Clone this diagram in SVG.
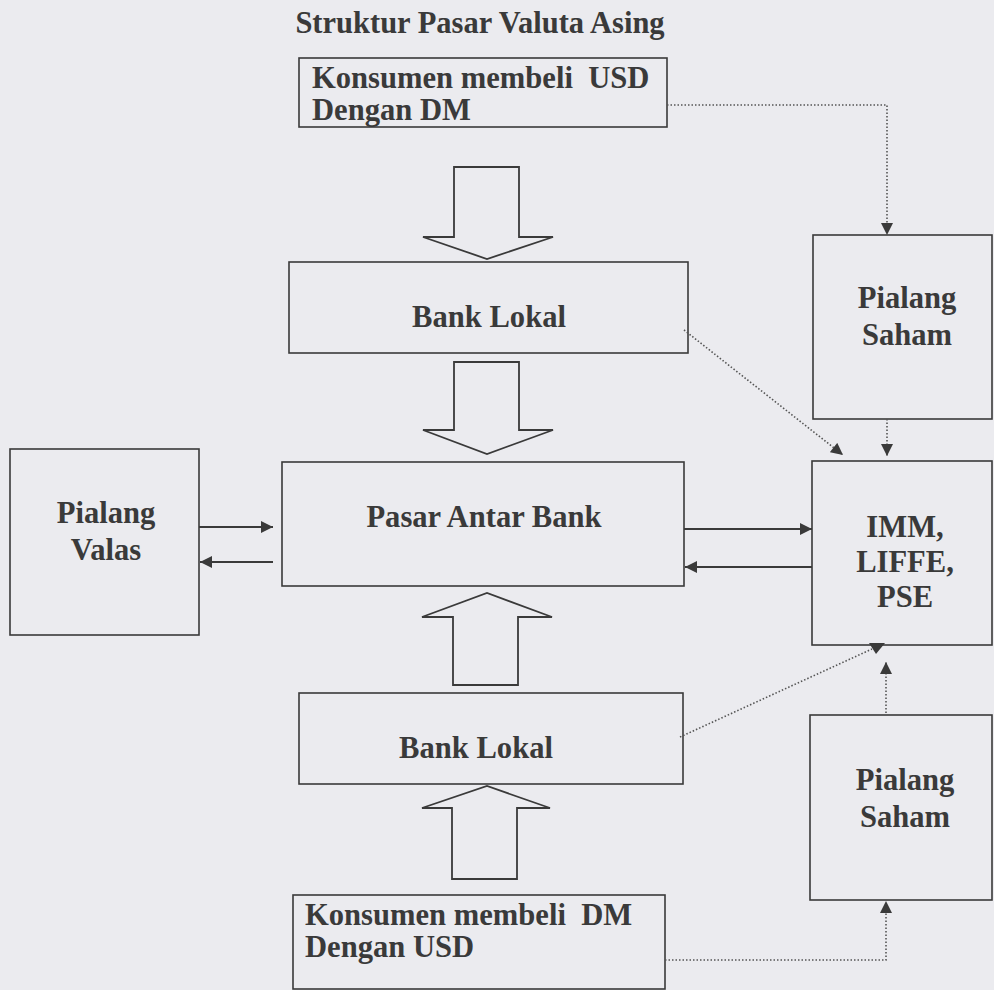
<svg xmlns="http://www.w3.org/2000/svg" width="994" height="990" viewBox="0 0 994 990">
  <style>
    .box { fill: none; stroke: #3a3a3a; stroke-width: 1.6; }
    .blk { fill: none; stroke: #3a3a3a; stroke-width: 1.8; stroke-linejoin: miter; }
    .solid { fill: none; stroke: #3a3a3a; stroke-width: 1.8; }
    .dot { fill: none; stroke: #555; stroke-width: 1.6; stroke-dasharray: 1.5 2; }
    .head { fill: #3a3a3a; stroke: none; }
    text.t { font-family: 'Liberation Serif', serif; font-weight: bold; font-size: 30.6px; fill: #3a3a3a; }
    text.mid { text-anchor: middle; }
  </style>
  <defs>
    <marker id="arr" viewBox="0 0 10 10" refX="10" refY="5" markerUnits="userSpaceOnUse" markerWidth="13" markerHeight="12" orient="auto">
      <path d="M0,0 L10,5 L0,10 z" fill="#3a3a3a" stroke="none"/>
    </marker>
  </defs>
  <rect x="0" y="0" width="994" height="990" fill="#ebebef"/>

  <text id="title" class="t mid" x="480" y="33" style="font-family:'Liberation Serif',serif;font-size:30.5px">Struktur Pasar Valuta Asing</text>

  <g id="konsumen-usd">
    <rect class="box" x="299" y="58" width="368" height="69"/>
    <text class="t" x="312" y="88" style="font-family:'Liberation Serif',serif" xml:space="preserve">Konsumen membeli  USD</text>
    <text class="t" x="312" y="120" style="font-family:'Liberation Serif',serif">Dengan DM</text>
  </g>

  <g id="bank-lokal-1">
    <rect class="box" x="289" y="262" width="399" height="91"/>
    <text class="t mid" x="489" y="327" style="font-family:'Liberation Serif',serif">Bank Lokal</text>
  </g>

  <g id="pasar-antar-bank">
    <rect class="box" x="282" y="462" width="402" height="124"/>
    <text class="t mid" x="484" y="527" style="font-family:'Liberation Serif',serif">Pasar Antar Bank</text>
  </g>

  <g id="bank-lokal-2">
    <rect class="box" x="299" y="693" width="384" height="91"/>
    <text class="t mid" x="476" y="758" style="font-family:'Liberation Serif',serif">Bank Lokal</text>
  </g>

  <g id="konsumen-dm">
    <rect class="box" x="293" y="895" width="372" height="94"/>
    <text class="t" x="305" y="925" style="font-family:'Liberation Serif',serif" xml:space="preserve">Konsumen membeli  DM</text>
    <text class="t" x="305" y="957" style="font-family:'Liberation Serif',serif">Dengan USD</text>
  </g>

  <g id="pialang-valas">
    <rect class="box" x="10" y="449" width="189" height="186"/>
    <text class="t mid" x="106" y="523" style="font-family:'Liberation Serif',serif">Pialang</text>
    <text class="t mid" x="106" y="560" style="font-family:'Liberation Serif',serif">Valas</text>
  </g>

  <g id="pialang-saham-1">
    <rect class="box" x="813" y="235" width="179" height="184"/>
    <text class="t mid" x="907" y="308" style="font-family:'Liberation Serif',serif">Pialang</text>
    <text class="t mid" x="907" y="345" style="font-family:'Liberation Serif',serif">Saham</text>
  </g>

  <g id="imm-liffe-pse">
    <rect class="box" x="812" y="461" width="180" height="184"/>
    <text class="t mid" x="905" y="537" style="font-family:'Liberation Serif',serif">IMM,</text>
    <text class="t mid" x="905" y="572" style="font-family:'Liberation Serif',serif">LIFFE,</text>
    <text class="t mid" x="905" y="607" style="font-family:'Liberation Serif',serif">PSE</text>
  </g>

  <g id="pialang-saham-2">
    <rect class="box" x="810" y="715" width="182" height="185"/>
    <text class="t mid" x="905" y="790" style="font-family:'Liberation Serif',serif">Pialang</text>
    <text class="t mid" x="905" y="827" style="font-family:'Liberation Serif',serif">Saham</text>
  </g>

  <g id="connectors">
    <polygon class="blk" points="454,167 519,167 519,237 553,237 487,259 423,237 454,237"/>
    <polygon class="blk" points="454,362 519,362 519,430 553,430 487,454 423,430 454,430"/>
    <polygon class="blk" points="453,685 518,685 518,617 552,617 487,593 422,617 453,617"/>
    <polygon class="blk" points="452,879 517,879 517,808 550,808 487,786 422,808 452,808"/>

    <line class="solid" x1="199" y1="527" x2="273" y2="527" marker-end="url(#arr)"/>
    <line class="solid" x1="273" y1="562" x2="200" y2="562" marker-end="url(#arr)"/>
    <line class="solid" x1="684" y1="529" x2="812" y2="529" marker-end="url(#arr)"/>
    <line class="solid" x1="812" y1="567" x2="685" y2="567" marker-end="url(#arr)"/>

    <polyline class="dot" points="667,105 887,105 887,235" marker-end="url(#arr)"/>
    <line class="dot" x1="684" y1="330" x2="843" y2="455" marker-end="url(#arr)"/>
    <line class="dot" x1="887" y1="419" x2="887" y2="456" marker-end="url(#arr)"/>
    <line class="dot" x1="680" y1="737" x2="872" y2="649"/>
    <polygon class="head" points="869,643 885,643 876,654"/>
    <line class="dot" x1="886" y1="713" x2="886" y2="662" marker-end="url(#arr)"/>
    <polyline class="dot" points="665,960 886,960 886,901" marker-end="url(#arr)"/>
  </g>
</svg>
